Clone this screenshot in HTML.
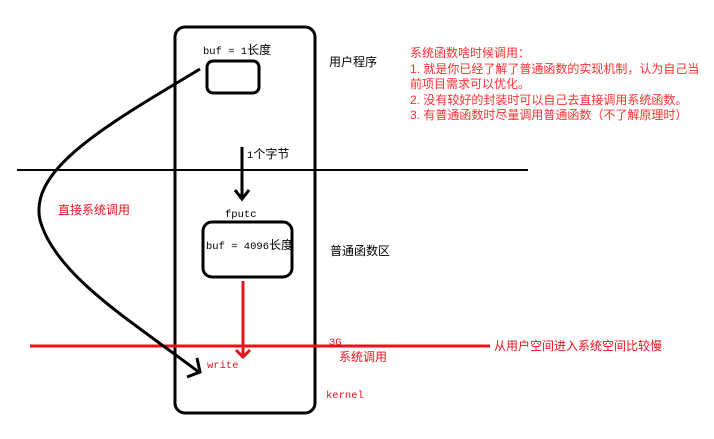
<!DOCTYPE html>
<html><head><meta charset="utf-8"><style>
html,body{margin:0;padding:0;background:#fff;}
svg{display:block}
.s{font-family:"Liberation Mono","Noto Sans CJK SC",monospace;font-size:10.5px;}
.s tspan{font-family:"Noto Sans CJK SC",sans-serif;font-size:12px;}
.c{font-family:"Liberation Sans","Noto Sans CJK SC",sans-serif;font-size:12px;}
</style></head><body>
<svg width="714" height="439" viewBox="0 0 714 439" xmlns="http://www.w3.org/2000/svg">
<rect x="175" y="27" width="140" height="386" rx="10" fill="none" stroke="#000" stroke-width="3"/>
<rect x="207" y="61" width="52" height="32" rx="6" fill="none" stroke="#000" stroke-width="3"/>
<rect x="203" y="222" width="89" height="55" rx="9" fill="none" stroke="#000" stroke-width="3"/>
<line x1="17" y1="170" x2="528" y2="170" stroke="#000" stroke-width="2"/>
<line x1="242" y1="147" x2="242" y2="199" stroke="#000" stroke-width="3"/>
<polyline points="235,190 242,199 249,190" fill="none" stroke="#000" stroke-width="3"/>
<line x1="30" y1="346" x2="490" y2="346" stroke="#e8141c" stroke-width="3"/>
<line x1="243" y1="281" x2="243" y2="357" stroke="#e8141c" stroke-width="3"/>
<polyline points="236,350 243,357 250,350" fill="none" stroke="#e8141c" stroke-width="3"/>
<path d="M200,69 L170,87 C90,135 30,175 40,220 C55,275 130,320 200,373" fill="none" stroke="#000" stroke-width="3"/>
<polyline points="197,358 200,372 187,377" fill="none" stroke="#000" stroke-width="3"/>
<text class="s" x="203" y="54">buf = 1<tspan>长度</tspan></text>
<text class="c" x="329" y="66">用户程序</text>
<text class="s" x="247" y="158">1<tspan>个字节</tspan></text>
<text class="s" x="225" y="217">fputc</text>
<text class="s" x="206" y="249">buf = 4096<tspan>长度</tspan></text>
<text class="c" x="330" y="255">普通函数区</text>
<text class="c" x="58" y="214" fill="#e8141c">直接系统调用</text>
<text class="s" x="329" y="345" fill="#e8141c">3G</text>
<text class="c" x="339" y="361" fill="#e8141c">系统调用</text>
<text class="s" x="207" y="368" fill="#e8141c">write</text>
<text class="s" x="326" y="398" fill="#e8141c">kernel</text>
<text class="c" x="494" y="350" fill="#e8141c">从用户空间进入系统空间比较慢</text>
<g class="c" fill="#ff3030">
<text x="410" y="57">系统函数啥时候调用：</text>
<text x="410" y="73">1.  就是你已经了解了普通函数的实现机制，认为自己当</text>
<text x="410" y="88">前项目需求可以优化。</text>
<text x="410" y="104">2.  没有较好的封装时可以自己去直接调用系统函数。</text>
<text x="410" y="119">3.  有普通函数时尽量调用普通函数（不了解原理时）</text>
</g>
</svg>
</body></html>
